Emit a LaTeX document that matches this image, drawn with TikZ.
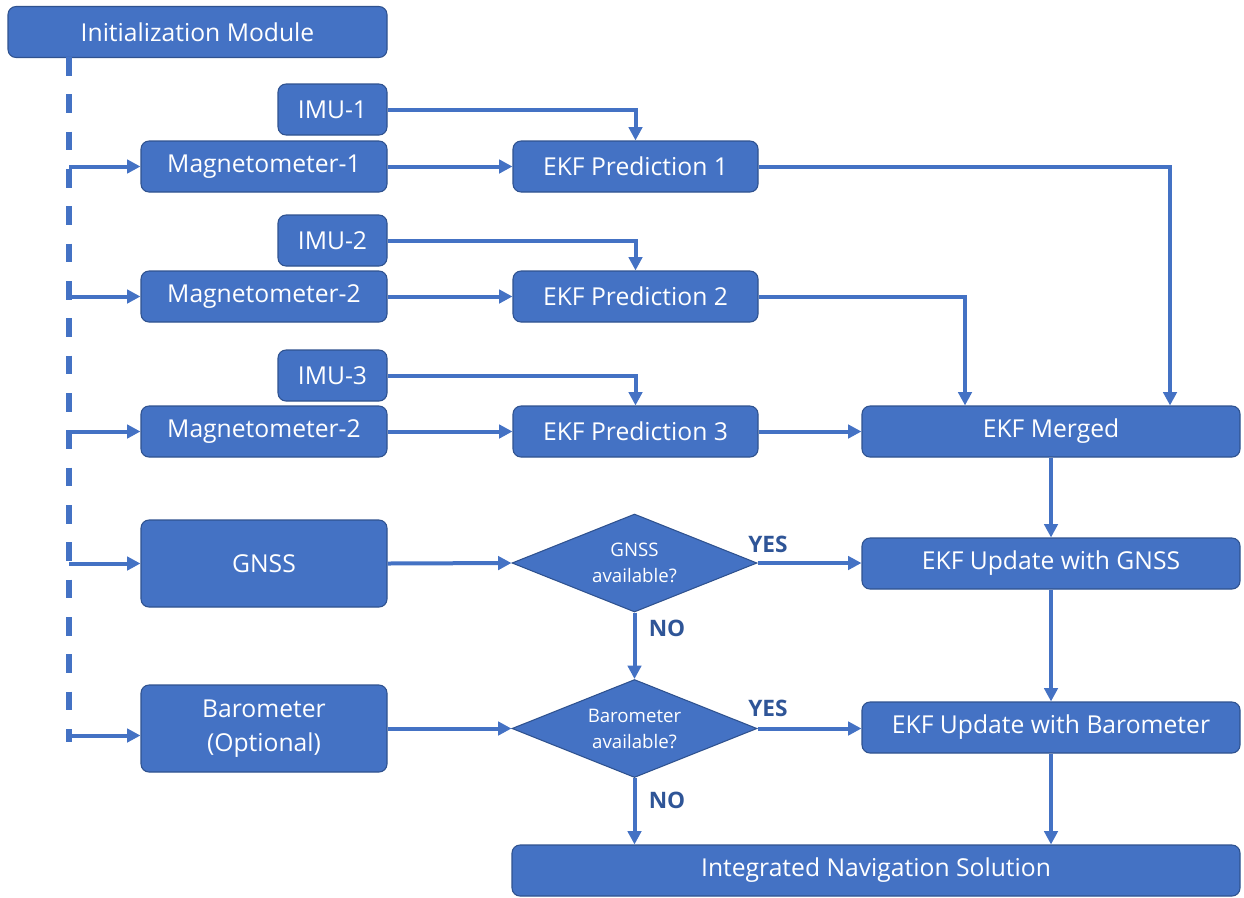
\documentclass[tikz,border=0pt]{standalone}
\usepackage{fontspec}
\setmainfont{Open Sans}
\usetikzlibrary{shapes.geometric,arrows.meta,calc}
\definecolor{boxfill}{HTML}{4472C4}
\definecolor{boxedge}{HTML}{2F528F}
\definecolor{labelblue}{HTML}{2F5597}
\begin{document}
\begin{tikzpicture}[x=0.75pt,y=-0.75pt,
  box/.style={draw=boxedge,fill=boxfill,line width=0.8pt,rounded corners=6pt,
    text=white,font=\fontsize{18.5}{26}\selectfont,align=center,
    minimum height=38.25pt,inner sep=0pt},
  tallbox/.style={box,minimum height=65.25pt},
  decide/.style={diamond,draw=boxedge,fill=boxfill,line width=0.8pt,
    text=white,font=\fontsize{14}{19.5}\selectfont,align=center,
    minimum width=183.75pt,minimum height=73.5pt,inner sep=0pt,aspect=2.5},
  flow/.style={draw=boxfill,line width=3pt,
    -{Triangle[length=10pt,width=10pt]}},
  answer/.style={text=labelblue,font=\fontsize{17}{20}\selectfont\bfseries}]

\useasboundingbox (0,0) rectangle (1244,897);

% blocks
\node[box,minimum width=284.25pt] (init) at (197.5,32) {Initialization Module};

\node[box,minimum width=81.75pt] (imu1) at (332.5,109.5) {IMU-1};
\node[box,minimum width=184.5pt] (mag1) at (264,166.5) {Magnetometer-1};
\node[box,minimum width=183.75pt] (ekf1) at (635.5,166.5) {EKF Prediction 1};

\node[box,minimum width=81.75pt] (imu2) at (332.5,240.5) {IMU-2};
\node[box,minimum width=184.5pt] (mag2) at (264,296.5) {Magnetometer-2};
\node[box,minimum width=183.75pt] (ekf2) at (635.5,296.5) {EKF Prediction 2};

\node[box,minimum width=81.75pt] (imu3) at (332.5,375.5) {IMU-3};
\node[box,minimum width=184.5pt] (mag3) at (264,431.5) {Magnetometer-2};
\node[box,minimum width=183.75pt] (ekf3) at (635.5,431.5) {EKF Prediction 3};
\node[box,minimum width=283.5pt] (merged) at (1051,431.5) {EKF Merged};

\node[tallbox,minimum width=184.5pt] (gnss) at (264,563.5) {GNSS};
\node[decide] (qgnss) at (634.5,563) {GNSS\\available?};
\node[box,minimum width=283.5pt] (updg) at (1051,563.5) {EKF Update with GNSS};

\node[tallbox,minimum width=184.5pt] (baro) at (264,728.5) {Barometer\\(Optional)};
\node[decide] (qbaro) at (634.5,728.5) {Barometer\\available?};
\node[box,minimum width=283.5pt] (updb) at (1051,727.5) {EKF Update with Barometer};

\node[box,minimum width=546pt] (nav) at (876,870.5) {Integrated Navigation Solution};

% dashed trunk from the initialization module
\coordinate (trunk) at (69,57);
\coordinate (trunkend) at (69,742);
\draw[draw=boxfill,line width=3.8pt,dash pattern=on 14pt off 14pt] (trunk) -- (trunkend);

\draw[flow] (trunk |- mag1.west) -- (mag1.west);
\draw[flow] (trunk |- mag2.west) -- (mag2.west);
\draw[flow] (trunk |- mag3.west) -- (mag3.west);
\draw[flow] (trunk |- gnss.west) -- (gnss.west);
\draw[flow] ($(trunk |- baro.west)+(0,7)$) -- ($(baro.west)+(0,7)$);

% sensors into the prediction filters
\draw[flow] (imu1.east) -| (ekf1.north);
\draw[flow] (imu2.east) -| (ekf2.north);
\draw[flow] (imu3.east) -| (ekf3.north);
\draw[flow] (mag1.east) -- (ekf1.west);
\draw[flow] (mag2.east) -- (ekf2.west);
\draw[flow] (mag3.east) -- (ekf3.west);

% predictions merged
\draw[flow] (ekf1.east) -| ($(merged.north)+(119,0)$);
\draw[flow] (ekf2.east) -| ($(merged.north)+(-86,0)$);
\draw[flow] (ekf3.east) -- (merged.west);

% update chain
\draw[flow] (merged.south) -- (updg.north);
\draw[flow] (updg.south) -- (updb.north);
\draw[flow] (updb.south) -- (updb.south |- nav.north);

\draw[flow] (gnss.east) -- (qgnss.west);
\draw[flow] (qgnss.east) -- (updg.west |- qgnss.east);
\draw[flow] (qgnss.south) -- (qbaro.north);
\draw[flow] (baro.east) -- (qbaro.west);
\draw[flow] (qbaro.east) -- (updb.west |- qbaro.east);
\draw[flow] (qbaro.south) -- (qbaro.south |- nav.north);

% decision labels
\node[answer] (yes1) at (768,544) {YES};
\node[answer] (no1) at (667,628) {NO};
\node[answer] (yes2) at (768,708) {YES};
\node[answer] (no2) at (667,800) {NO};
\end{tikzpicture}
\end{document}
